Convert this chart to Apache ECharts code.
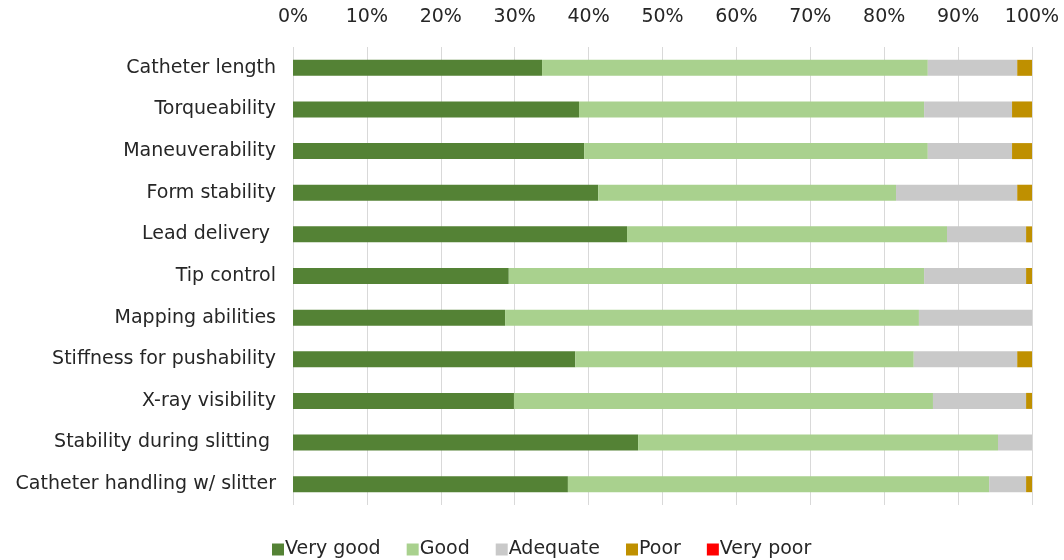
<!DOCTYPE html>
<html>
<head>
<meta charset="utf-8">
<script src="https://cdn.jsdelivr.net/npm/echarts@6/dist/echarts.min.js"></script>
<style>html,body{margin:0;padding:0;background:#fff}#c{width:1064px;height:560px}</style>
</head>
<body>
<div id="c"></div>
<script>
const categories = ["Catheter length","Torqueability","Maneuverability","Form stability","Lead delivery ","Tip control","Mapping abilities","Stiffness for pushability","X-ray visibility","Stability during slitting ","Catheter handling w/ slitter"];
const seriesNames = ["Very good","Good","Adequate","Poor","Very poor"];
const veryGood = [33.7,38.7,39.4,41.3,45.2,29.2,28.7,38.2,29.9,46.7,37.2];
const good     = [52.2,46.7,46.5,40.3,43.3,56.2,56.0,45.8,56.7,48.7,57.0];
const adequate = [12.1,11.9,11.4,16.4,10.7,13.8,15.3,14.0,12.6,4.6,5.0];
const poor     = [2.0,2.7,2.7,2.0,0.8,0.8,0.0,2.0,0.8,0.0,0.8];
const veryPoor = [0,0,0,0,0,0,0,0,0,0,0];
const colors = ["#548235","#A9D18E","#C9C9C9","#BF9000","#FF0000"];
const dataSets = [veryGood, good, adequate, poor, veryPoor];

const chart = echarts.init(document.getElementById('c'), null, {renderer:'canvas'});
const font = "DejaVu Sans";
chart.setOption({
  animation:false,
  backgroundColor:'#fff',
  textStyle:{fontFamily:font},
  grid:{left:293,right:32,top:47,bottom:55},
  xAxis:{
    type:'value', position:'top', min:0, max:100, interval:10,
    axisLabel:{formatter:'{value}%', color:'#262626', fontSize:19, fontFamily:font, margin:20},
    axisLine:{show:false}, axisTick:{show:false},
    splitLine:{show:true, lineStyle:{color:'#D9D9D9', width:1}}
  },
  yAxis:{
    type:'category', data:categories, inverse:true,
    axisLabel:{color:'#262626', fontSize:19, fontFamily:font, margin:17},
    axisLine:{show:false}, axisTick:{show:false}
  },
  legend:{
    bottom:-4, left:267, itemWidth:12, itemHeight:12, itemGap:26, icon:'rect',
    textStyle:{color:'#262626', fontSize:19, fontFamily:font, padding:[0,0,0,-4]},
    data:seriesNames
  },
  series: seriesNames.map((n,i)=>({
    name:n, type:'bar', stack:'total', barWidth:16,
    itemStyle:{color:colors[i]},
    data:dataSets[i]
  }))
});
</script>
</body>
</html>
